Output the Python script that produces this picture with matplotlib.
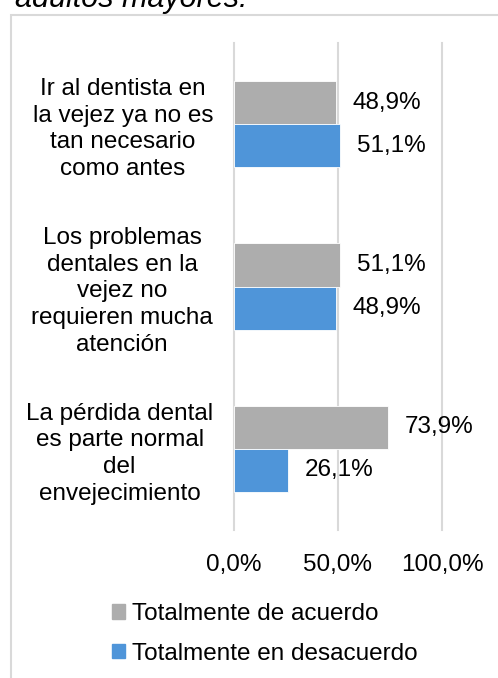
import numpy as np
import matplotlib
matplotlib.use('Agg')
import matplotlib.pyplot as plt
from matplotlib.patches import Rectangle, Patch

plt.rcParams['font.family'] = ['Liberation Sans', 'DejaVu Sans']

# datos del gráfico
categorias = ['Ir al dentista en\nla vejez ya no es\ntan necesario\ncomo antes',
              'Los problemas\ndentales en la\nvejez no\nrequieren mucha\natención',
              'La pérdida dental\nes parte normal\ndel\nenvejecimiento']
de_acuerdo = [48.9, 51.1, 73.9]
en_desacuerdo = [51.1, 48.9, 26.1]
series = ['Totalmente de acuerdo', 'Totalmente en desacuerdo']
ticks_x = [0, 50, 100]
ticks_x_labels = ['0,0%', '50,0%', '100,0%']

gris = '#adadad'
azul = '#4f95d9'
borde = '#d9d9d9'
fs = 17.5

W, H = 498, 678
fig = plt.figure(figsize=(W / 100, H / 100), dpi=100)

# marco del gráfico (se sale por la derecha y por abajo)
fig.patches.append(Rectangle((10.5 / W, -0.1), 1.2, (H - 15) / H + 0.1,
                             transform=fig.transFigure, fill=False,
                             edgecolor=borde, linewidth=1.5))

# título cortado arriba, como en la imagen
fig.text(15 / W, (H - 7.5) / H, 'adultos mayores.', fontsize=22,
         style='italic', va='baseline', ha='left')

ax = fig.add_axes([234 / W, (H - 530) / H, 208 / W, 487 / H])

y = np.arange(len(categorias))
h = 0.265
b1 = ax.barh(y - h / 2, de_acuerdo, height=h, color=gris, edgecolor='white', linewidth=0.6, label=series[0])
b2 = ax.barh(y + h / 2, en_desacuerdo, height=h, color=azul, edgecolor='white', linewidth=0.6, label=series[1])

ax.bar_label(b1, labels=[f'{v:.1f}%'.replace('.', ',') for v in de_acuerdo], padding=12, fontsize=fs)
ax.bar_label(b2, labels=[f'{v:.1f}%'.replace('.', ',') for v in en_desacuerdo], padding=12, fontsize=fs)

ax.set_xlim(0, 100)
ax.set_ylim(len(categorias) - 0.5, -0.5)
ax.set_xticks(ticks_x)
ax.set_xticklabels(ticks_x_labels, fontsize=fs)
ax.set_yticks(y)
ax.set_yticklabels(categorias, fontsize=fs, multialignment='center', linespacing=1.28)
ax.tick_params(axis='both', length=0)
ax.tick_params(axis='y', pad=15)
ax.tick_params(axis='x', pad=17.5)

for s in ax.spines.values():
    s.set_visible(False)
ax.set_axisbelow(True)
ax.grid(axis='x', color=borde, linewidth=1.5)
for line in ax.get_xgridlines():
    line.set_clip_on(False)

handles = [Patch(color=gris), Patch(color=azul)]
fig.legend(handles, series, loc='upper left', bbox_to_anchor=(112 / W, (H - 603) / H),
           frameon=False, fontsize=fs, borderpad=0, handlelength=0.53, handleheight=0.53,
           handletextpad=0.28, labelspacing=0.73, borderaxespad=0)

fig.savefig('out.png', dpi=100)
